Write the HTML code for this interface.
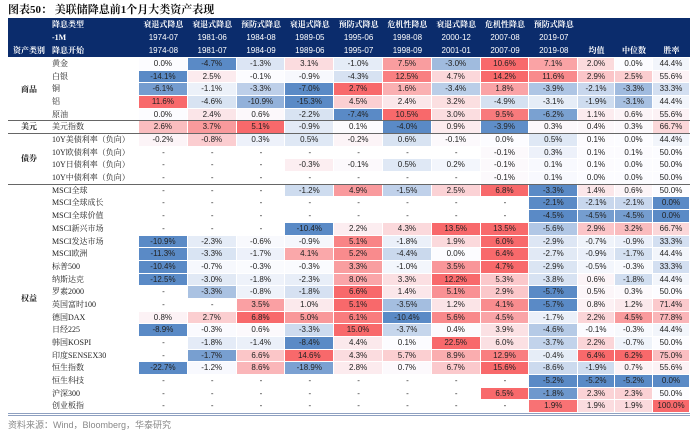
<!DOCTYPE html>
<html><head><meta charset="utf-8">
<style>
html,body{margin:0;padding:0;background:#fff;}
#wrap{position:relative;width:700px;height:433px;overflow:hidden;font-family:"Liberation Sans","Noto Sans CJK SC",sans-serif;}
.c{position:absolute;box-sizing:border-box;font-size:8px;color:#222;text-align:center;white-space:nowrap;}
.h{color:#fff;font-size:8px;}
.cn{font-family:"Liberation Serif","Noto Serif CJK SC",serif;}
</style></head><body>
<div id="wrap">
<div class="c cn" style="left:8px;top:1px;font-size:11px;font-weight:bold;color:#111;text-align:left;">图表50：&nbsp;美联储降息前1个月大类资产表现</div>
<div class="c" style="left:8px;top:18px;width:682px;height:39px;background:#0b2c6c;"></div>
<div class="c" style="left:8px;top:418px;font-size:9px;color:#888;text-align:left;">资料来源：Wind，Bloomberg，华泰研究</div>
</div>
<script>
const cutTypes=["衰退式降息","衰退式降息","预防式降息","衰退式降息","预防式降息","危机性降息","衰退式降息","危机性降息","预防式降息"];
const startM1=["1974-07","1981-06","1984-08","1989-05","1995-06","1998-08","2000-12","2007-08","2019-07"];
const startM=["1974-08","1981-07","1984-09","1989-06","1995-07","1998-09","2001-01","2007-09","2019-08"];
const rows=["黄金","白银","铜","铝","原油","美元指数","10Y美债利率（负向）","10Y欧债利率（负向）","10Y日债利率（负向）","10Y中债利率（负向）","MSCI全球","MSCI全球成长","MSCI全球价值","MSCI新兴市场","MSCI发达市场","MSCI欧洲","标普500","纳斯达克","罗素2000","英国富时100","德国DAX","日经225","韩国KOSPI","印度SENSEX30","恒生指数","恒生科技","沪深300","创业板指"];
const cats=[["商品",0,5],["美元",5,1],["债券",6,4],["权益",10,18]];
const N=null;
const events=[
[0.0,-4.7,-1.3,3.1,-1.0,7.5,-3.0,10.6,7.1],
[-14.1,2.5,-0.1,-0.9,-4.3,12.5,4.7,14.2,11.6],
[-6.1,-1.1,-3.3,-7.0,2.7,1.6,-3.4,1.8,-3.9],
[11.6,-4.6,-10.9,-15.3,4.5,2.4,3.2,-4.9,-3.1],
[0.0,2.4,0.6,-2.2,-7.4,10.5,3.0,9.5,-6.2],
[2.6,3.7,5.1,-0.9,0.1,-4.0,0.9,-3.9,0.3],
[-0.2,-0.8,0.3,0.5,-0.2,0.6,-0.1,0.0,0.5],
[N,N,N,N,N,N,N,-0.1,0.3],
[N,N,N,-0.3,-0.1,0.5,0.2,-0.1,0.1],
[N,N,N,N,N,N,N,-0.1,0.1],
[N,N,N,-1.2,4.9,-1.5,2.5,6.8,-3.3],
[N,N,N,N,N,N,N,N,-2.1],
[N,N,N,N,N,N,N,N,-4.5],
[N,N,N,-10.4,2.2,4.3,13.5,13.5,-5.6],
[-10.9,-2.3,-0.6,-0.9,5.1,-1.8,1.9,6.0,-2.9],
[-11.3,-3.3,-1.7,4.1,5.2,-4.4,0.0,6.4,-2.7],
[-10.4,-0.7,-0.3,-0.3,3.3,-1.0,3.5,4.7,-2.9],
[-12.5,-3.0,-1.8,-2.3,8.0,3.3,12.2,5.3,-3.8],
[N,-3.3,-0.8,-1.8,6.6,1.4,5.1,2.9,-5.7],
[N,N,3.5,1.0,5.1,-3.5,1.2,4.1,-5.7],
[0.8,2.7,6.8,5.0,6.1,-10.4,5.6,4.5,-1.7],
[-8.9,-0.3,0.6,-3.3,15.0,-3.7,0.4,3.9,-4.6],
[N,-1.8,-1.4,-8.4,4.4,0.1,22.5,6.0,-3.7],
[N,-1.7,6.6,14.6,4.3,5.7,8.9,12.9,-0.4],
[-22.7,-1.2,8.6,-18.9,2.8,0.7,6.7,15.6,-8.6],
[N,N,N,N,N,N,N,N,-5.2],
[N,N,N,N,N,N,N,6.5,-1.8],
[N,N,N,N,N,N,N,N,1.9]];
const meanV=[2.0,2.9,-2.1,-1.9,1.1,0.4,0.1,0.1,0.1,0.0,1.4,-2.1,-4.5,2.9,-0.7,-0.9,-0.5,0.6,0.5,0.8,2.2,-0.1,2.2,6.4,-1.9,-5.2,2.3,1.9];
const medV=[0.0,2.5,-3.3,-3.1,0.6,0.3,0.0,0.1,0.0,0.0,0.6,-2.1,-4.5,3.2,-0.9,-1.7,-0.3,-1.8,0.3,1.2,4.5,-0.3,-0.7,6.2,0.7,-5.2,2.3,1.9];
const winV=[44.4,55.6,33.3,44.4,55.6,66.7,44.4,50.0,50.0,50.0,50.0,0.0,0.0,66.7,33.3,44.4,33.3,44.4,50.0,71.4,77.8,44.4,50.0,75.0,55.6,0.0,50.0,100.0];
const invertRows=[6,7,8,9];

const wrap=document.getElementById('wrap');
const X0=139,CW=48.8,Y0=58,RH=12.68;
const statX=[578,615,653,690];
function colorFor(v,neg,pos,mid,minR){
  const W=[252,252,255],R=[248,105,107],B=[90,138,198];
  minR=minR||0;
  let t,C;
  if(v>=mid){const r=Math.max(pos-mid,minR);t=r>0?(v-mid)/r:0;C=R;}else{const r=Math.max(mid-neg,minR);t=r>0?(mid-v)/r:0;C=B;}
  t=Math.pow(Math.max(0,Math.min(1,t)),1.25);
  return 'rgb('+W.map((w,i)=>Math.round(w+(C[i]-w)*t)).join(',')+')';
}
function cell(x,y,w,h,txt,bg,cls){
  const d=document.createElement('div');
  d.className='c '+(cls||'');
  d.style.left=x+'px';d.style.top=y+'px';d.style.width=w+'px';d.style.height=h+'px';
  d.style.lineHeight=h+'px';
  if(bg){d.style.background=bg;d.style.borderRight='1px solid #fff';d.style.borderBottom='1px solid #fff';}
  d.textContent=txt;
  wrap.appendChild(d);
  return d;
}
for(let j=0;j<9;j++){
  const x=X0+j*CW;
  let d=cell(x,18,CW,13,cutTypes[j],null,'h cn');
  
  
  d.style.fontWeight='bold';
  d=cell(x,31,CW,13,startM1[j],null,'h');
  
  
  d=cell(x,44,CW,13,startM[j],null,'h');
  
  
}
[["均值",0],["中位数",1],["胜率",2]].forEach(([t,i])=>{
  const d=cell(statX[i],44,statX[i+1]-statX[i],13,t,null,'h cn');
  
  
  d.style.fontWeight='bold';
});
[["降息类型",18],["-1M",31],["降息开始",44]].forEach(([t,y])=>{
  const d=cell(52,y,80,13,t,null,'h cn');
  
  
  d.style.textAlign='left';d.style.fontWeight='bold';
});
{const d=cell(8,44,42,13,'资产类别',null,'h cn');


d.style.fontWeight='bold';}
function fmt(v){return v===null?'-':v.toFixed(1)+'%';}
function colMinMax(a){return [Math.min(...a),Math.max(...a)];}
const [mn0,mx0]=colMinMax(meanV),[mn1,mx1]=colMinMax(medV);
rows.forEach((name,i)=>{
  const y=Y0+i*RH;
  let d=cell(52,y,86,RH,name,null,'cn');
  
  
  d.style.textAlign='left';
  const vals=events[i].filter(v=>v!==null);
  const inv=invertRows.includes(i);
  const sv=vals.map(v=>inv?-v:v);
  const mn=Math.min(...sv),mx=Math.max(...sv);
  events[i].forEach((v,j)=>{
    const bg=v===null?null:colorFor(inv?-v:v,mn,mx,0,2);
    const c=cell(X0+j*CW,y,CW,RH,fmt(v),bg);
    
    
  });
  let c=cell(statX[0],y,statX[1]-statX[0],RH,fmt(meanV[i]),colorFor(meanV[i],mn0,mx0,0,2));
  
  
  c=cell(statX[1],y,statX[2]-statX[1],RH,fmt(medV[i]),colorFor(medV[i],mn1,mx1,0,2));
  
  
  c=cell(statX[2],y,statX[3]-statX[2],RH,fmt(winV[i]),colorFor(winV[i],0,100,50));
  
  
});
cats.forEach(([t,s,n])=>{
  const d=cell(8,Y0+s*RH,42,n*RH,t,null,'cn');
  
  
  d.style.fontWeight='bold';
  if(s>0){
    const l=document.createElement('div');
    
    
    l.className='c';
    l.style.cssText='left:8px;top:'+(Y0+s*RH-1)+'px;width:682px;height:1px;background:#666;';
    wrap.appendChild(l);
  }
});
{const l=document.createElement('div');


l.className='c';
l.style.cssText='left:8px;top:'+(Y0+28*RH)+'px;width:682px;height:3px;border-top:1px solid #8ea0c0;border-bottom:1px solid #8ea0c0;';
wrap.appendChild(l);}
</script>
</body></html>
